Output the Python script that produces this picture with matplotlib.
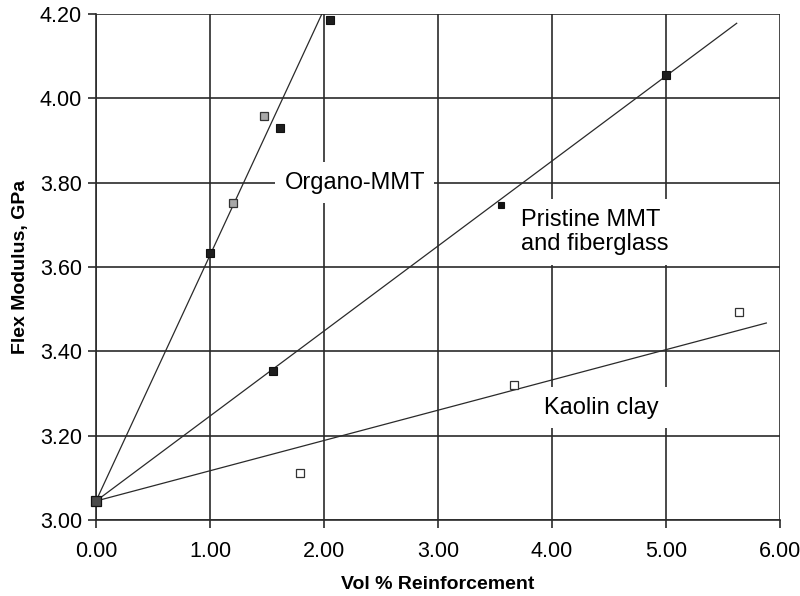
import numpy as np
import matplotlib.pyplot as plt

plt.rcParams['font.family'] = ['Liberation Sans', 'DejaVu Sans']

# 测量数据 (体积分数 %, 弯曲模量 GPa)
base_x = [0.0]
base_y = [3.045]

organo_x = [1.00, 1.61, 2.05]
organo_y = [3.633, 3.930, 4.186]
organo_gray_x = [1.20, 1.47]
organo_gray_y = [3.752, 3.958]

pristine_x = [1.55, 5.00]
pristine_y = [3.353, 4.055]
pristine_small_x = [3.55]
pristine_small_y = [3.747]

kaolin_x = [1.79, 3.67, 5.64]
kaolin_y = [3.111, 3.320, 3.493]

# 趋势线: 截距、斜率、终点
trend_intercept = 3.045
trend_slopes = [0.583, 0.2016, 0.0718]
trend_end_x = [2.10, 5.62, 5.88]

fig = plt.figure(figsize=(8, 5.96), dpi=100)
ax = fig.add_axes([0.12, 0.1275, 0.855, 0.849])

line_col = '#2a2a2a'
for slope, x_end in zip(trend_slopes, trend_end_x):
    xs = np.array([0.0, x_end])
    ax.plot(xs, trend_intercept + slope * xs, color=line_col, lw=0.9, zorder=3)

ax.plot(organo_x, organo_y, 's', ms=6, mfc='#1e1e1e', mec='#111111', mew=0.8, zorder=4)
ax.plot(organo_gray_x, organo_gray_y, 's', ms=6, mfc='#a8a8a8', mec='#333333', mew=0.9, zorder=4)
ax.plot(pristine_x, pristine_y, 's', ms=6, mfc='#1e1e1e', mec='#111111', mew=0.8, zorder=4)
ax.plot(pristine_small_x, pristine_small_y, 's', ms=4.5, mfc='#111111', mec='#111111', mew=0.8, zorder=4)
ax.plot(kaolin_x, kaolin_y, 's', ms=5.5, mfc='white', mec='#333333', mew=0.9, zorder=4)
ax.plot(base_x, base_y, 's', ms=7, mfc='#4a4a4a', mec='#111111', mew=0.9, zorder=4, clip_on=False)

ax.set_xlim(0, 6)
ax.set_ylim(3.0, 4.2)
ax.set_xticks(np.arange(0, 6.01, 1.0))
ax.set_yticks(np.arange(3.0, 4.21, 0.2))
ax.xaxis.set_major_formatter(plt.FormatStrFormatter('%.2f'))
ax.yaxis.set_major_formatter(plt.FormatStrFormatter('%.2f'))
ax.tick_params(direction='out', length=6, width=1.2, color=line_col,
               labelsize=15.5)
ax.tick_params(axis='x', pad=9)
ax.tick_params(axis='y', pad=4)
ax.grid(True, color=line_col, lw=1.2, zorder=1)
ax.set_axisbelow(True)
for side in ['top', 'right']:
    ax.spines[side].set_visible(False)
for side in ['left', 'bottom']:
    ax.spines[side].set_color(line_col)
    ax.spines[side].set_linewidth(1.2)

ax.set_xlabel('Vol % Reinforcement', fontsize=14, fontweight='bold', labelpad=10)
ax.set_ylabel('Flex Modulus, GPa', fontsize=14, fontweight='bold', labelpad=8)

box = dict(boxstyle='square,pad=0.4', fc='white', ec='none')
ax.text(2.27, 3.80, 'Organo-MMT', fontsize=17, ha='center', va='center',
        bbox=box, zorder=2.5)
ax.text(3.73, 3.683, 'Pristine MMT\nand fiberglass', fontsize=17, ha='left',
        va='center', linespacing=1.15, bbox=box, zorder=2.5)
ax.text(4.43, 3.266, 'Kaolin clay', fontsize=17, ha='center', va='center',
        bbox=box, zorder=2.5)

fig.savefig('out.png', dpi=100, facecolor='white')
